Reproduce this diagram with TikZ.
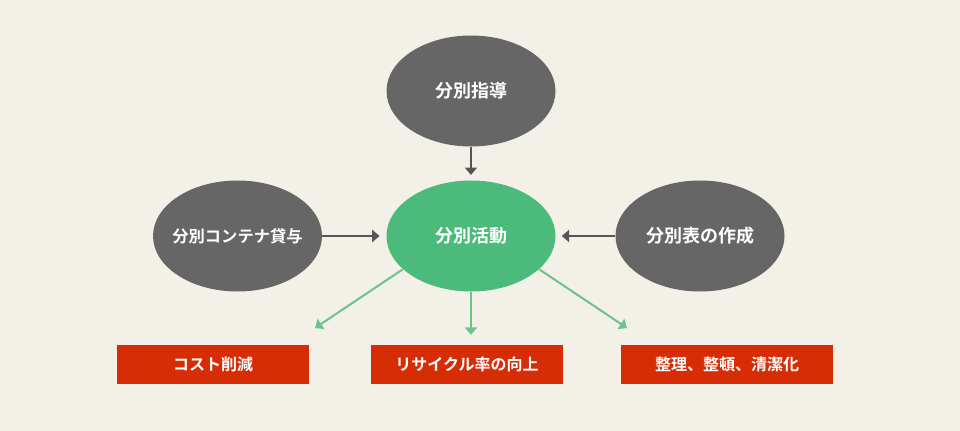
\documentclass[tikz,border=0pt]{standalone}
\usepackage{fontspec}
\newfontfamily\cjk{Noto Sans CJK JP}[BoldFont={Noto Sans CJK JP Bold}]
\usetikzlibrary{shapes.geometric,arrows.meta}
\definecolor{paper}{HTML}{F3F0E8}
\definecolor{darkgray}{HTML}{666666}
\definecolor{leaf}{HTML}{4CBA7A}
\definecolor{lightleaf}{HTML}{6CC48C}
\definecolor{brick}{HTML}{D72D07}
\definecolor{arrowgray}{HTML}{555555}
\tikzset{
    bubble/.style={ellipse, fill=darkgray, minimum width=126.75pt, minimum height=83.25pt,
        inner sep=0pt, text=white, font=\cjk\bfseries\fontsize{13.5}{15}\selectfont},
    activity/.style={bubble, fill=leaf},
    goalbox/.style={rectangle, fill=brick, minimum height=29.25pt, inner sep=0pt,
        text=white, font=\cjk\bfseries\fontsize{12}{14}\selectfont},
    grayarrow/.style={draw=arrowgray, line width=1.5pt, -{Triangle[width=9pt,length=5.5pt]}},
    greenarrow/.style={draw=lightleaf, line width=1.5pt, -{Triangle[width=9pt,length=5.5pt]}}
}
\begin{document}
\begin{tikzpicture}[x=0.75pt,y=-0.75pt]
    \fill[paper] (0,0) rectangle (960,431);
    \useasboundingbox (0,0) rectangle (960,431);
    % ellipses
    \node[bubble] (guide) at (471,91) {分別指導};
    \node[activity] (sort) at (471,236) {分別活動};
    \node[bubble, inner xsep=-5pt, font=\cjk\bfseries\fontsize{12.2}{14}\selectfont] (lend) at (237.5,236) {分別コンテナ貸与};
    \node[bubble] (table) at (700,236) {分別表の作成};
    % results
    \node[goalbox, minimum width=144pt] (cost) at (213,364.5) {コスト削減};
    \node[goalbox, minimum width=144pt] (recycle) at (467,364.5) {リサイクル率の向上};
    \node[goalbox, minimum width=159pt] (clean) at (727,364.5) {整理、整頓、清潔化};
    \coordinate (tipL) at (315,328);
    \coordinate (tipR) at (627,328);
    % arrows
    \draw[grayarrow, shorten >=4pt] (guide) -- (sort);
    \draw[grayarrow, shorten >=5pt] (lend) -- (sort);
    \draw[grayarrow, shorten >=4.5pt] (table) -- (sort);
    \draw[greenarrow, shorten >=7.5pt] (sort.south) -- (sort.south |- recycle.north);
    \draw[greenarrow] (sort.206) -- (tipL);
    \draw[greenarrow] (sort.334) -- (tipR);
\end{tikzpicture}
\end{document}
